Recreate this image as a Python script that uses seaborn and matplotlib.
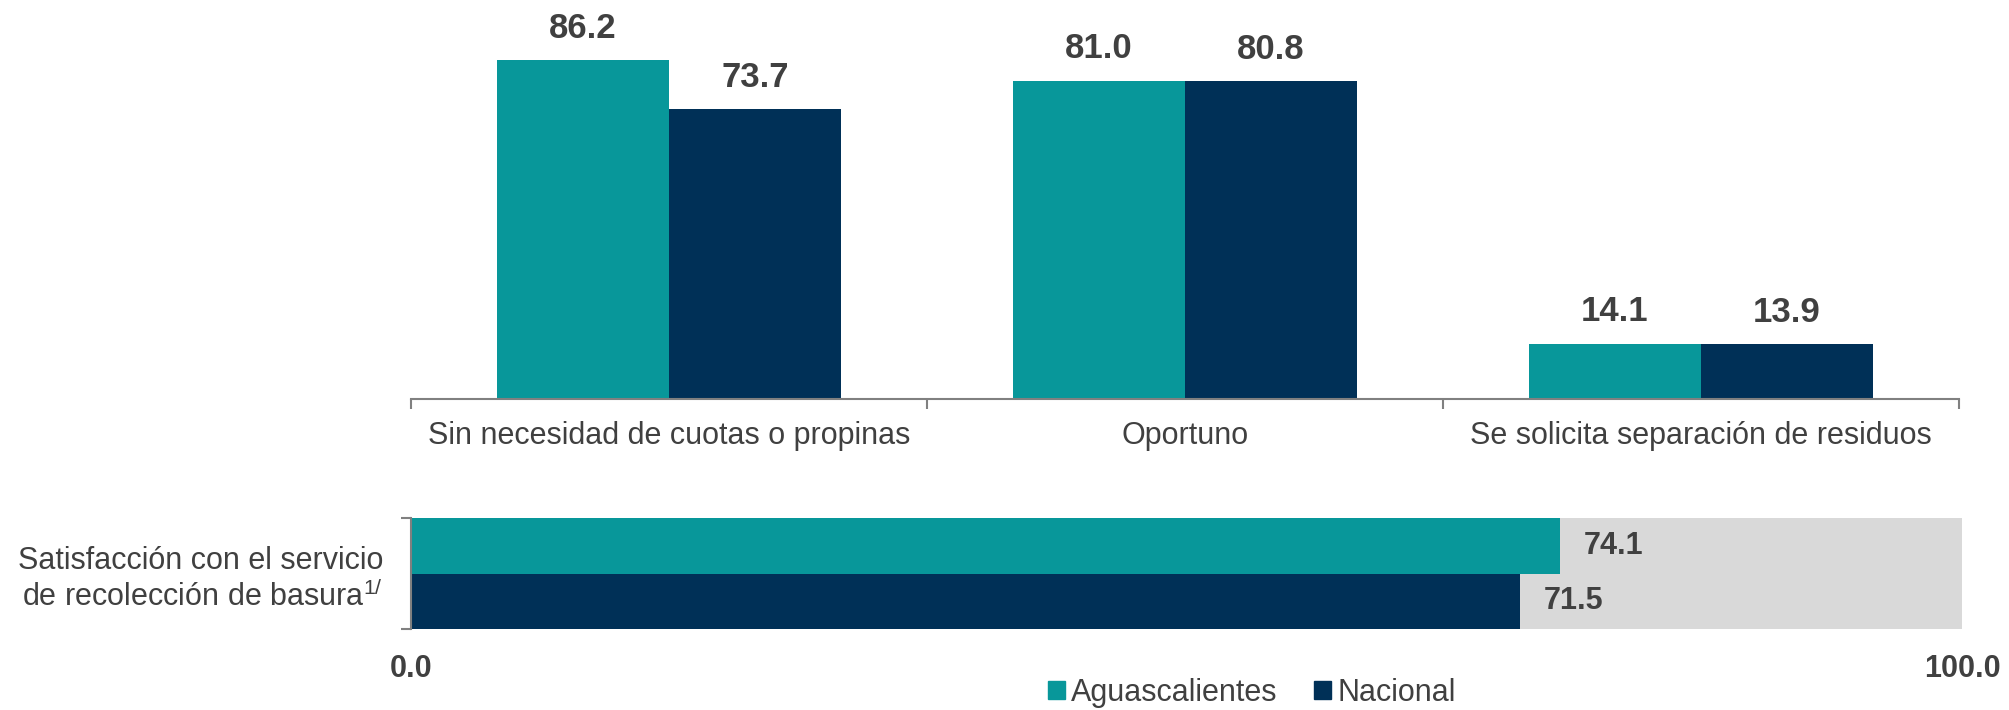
import matplotlib
matplotlib.use("Agg")
import matplotlib.pyplot as plt
import matplotlib.patches as mpatches
import seaborn as sns
import pandas as pd

categories = ["Sin necesidad de cuotas o propinas", "Oportuno", "Se solicita separación de residuos"]
series = ["Aguascalientes", "Nacional"]
aguascalientes = [86.2, 81.0, 14.1]
nacional = [73.7, 80.8, 13.9]

sat_label = "Satisfacción con el servicio\nde recolección de basura$^{\\mathrm{1/}}$"
sat_values = [74.1, 71.5]

colors = ["#08979A", "#003057"]
gray = "#D9D9D9"
txt = "#404040"

sns.set_theme(style="white")
plt.rcParams["font.family"] = ["Liberation Sans", "DejaVu Sans"]
plt.rcParams["mathtext.fontset"] = "custom"
plt.rcParams["mathtext.rm"] = "Liberation Sans"
plt.rcParams["mathtext.it"] = "Liberation Sans:italic"

df = pd.DataFrame({
    "cat": categories * 2,
    "serie": [series[0]] * 3 + [series[1]] * 3,
    "valor": aguascalientes + nacional,
})
df_sat = pd.DataFrame({"cat": [sat_label] * 2, "serie": series, "valor": sat_values})

fig = plt.figure(figsize=(20.09, 7.10), dpi=100)

# top: grouped columns
ax = fig.add_axes([411 / 2009, 1 - 399 / 710, 1548 / 2009, 393 / 710])
sns.barplot(data=df, x="cat", y="valor", hue="serie", palette=colors,
            width=0.667, saturation=1, linewidth=0, ax=ax, legend=False)
for c in ax.containers:
    ax.bar_label(c, fmt="%.1f", padding=11, fontsize=25, fontweight="bold", color=txt)
ax.set_ylim(0, 100)
ax.set_xlim(-0.5, 2.5)
ax.set_xlabel("")
ax.set_ylabel("")
ax.set_yticks([])
for s in ["top", "right", "left"]:
    ax.spines[s].set_visible(False)
ax.spines["bottom"].set_color("#808080")
ax.spines["bottom"].set_linewidth(1.5)
ax.set_xticks([-0.5, 0.5, 1.5, 2.5], minor=True)
ax.tick_params(axis="x", which="minor", bottom=True, length=7, width=1.5, color="#808080")
ax.tick_params(axis="x", which="major", length=0, pad=16, labelsize=22, labelcolor=txt)

# bottom: satisfaction bars
ax2 = fig.add_axes([411 / 2009, 1 - 629 / 710, 1551 / 2009, 111 / 710])
ax2.barh([0], [100], height=1.0, color=gray, linewidth=0)
sns.barplot(data=df_sat, y="cat", x="valor", hue="serie", palette=colors,
            width=1.0, saturation=1, linewidth=0, orient="h", ax=ax2, legend=False)
for c in ax2.containers[1:]:
    ax2.bar_label(c, fmt="%.1f", padding=17, fontsize=22, fontweight="bold", color=txt)
ax2.set_xlim(0, 100)
ax2.set_ylim(0.5, -0.5)
ax2.set_xlabel("")
ax2.set_ylabel("")
for s in ["top", "right", "bottom"]:
    ax2.spines[s].set_visible(False)
ax2.spines["left"].set_color("#808080")
ax2.spines["left"].set_linewidth(1.5)
ax2.set_xticks([0, 100])
ax2.set_xticklabels(["0.0", "100.0"])
ax2.tick_params(axis="x", length=0, pad=18, labelsize=22, labelcolor=txt)
for t in ax2.get_xticklabels():
    t.set_fontweight("bold")
ax2.set_yticks([0])
ax2.set_yticklabels([sat_label], ha="right", multialignment="right")
ax2.set_yticks([-0.5, 0.5], minor=True)
ax2.tick_params(axis="y", which="minor", left=True, length=7, width=1.5, color="#808080")
ax2.tick_params(axis="y", which="major", length=0, pad=20, labelsize=22, labelcolor=txt)

handles = [mpatches.Patch(color=c, label=s) for c, s in zip(colors, series)]
fig.legend(handles=handles, loc="center", bbox_to_anchor=(1252 / 2009, 1 - 693 / 710),
           ncol=2, frameon=False, fontsize=22, handlelength=0.55, handleheight=0.55,
           handletextpad=0.2, columnspacing=1.2, labelcolor=txt)

fig.savefig("out.png", dpi=100)
